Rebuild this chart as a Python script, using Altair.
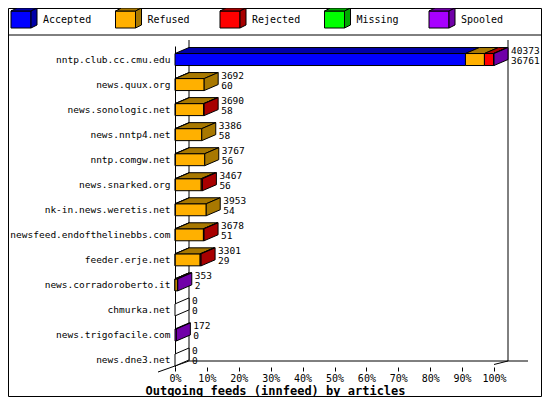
import json
import altair as alt
import pandas as pd

# ---------------- data ----------------
hosts = ["nntp.club.cc.cmu.edu", "news.quux.org", "news.sonologic.net", "news.nntp4.net",
         "nntp.comgw.net", "news.snarked.org", "nk-in.news.weretis.net",
         "newsfeed.endofthelinebbs.com", "feeder.erje.net", "news.corradoroberto.it",
         "chmurka.net", "news.trigofacile.com", "news.dne3.net"]
offered = [40373, 3692, 3690, 3386, 3767, 3467, 3953, 3678, 3301, 353, 0, 172, 0]
accepted = [36761, 60, 58, 58, 56, 56, 54, 51, 29, 2, 0, 0, 0]
refused = [2400, 3632, 3572, 3328, 3711, 3261, 3899, 3547, 3152, 300, 0, 0, 0]
rejected = [1150, 0, 60, 0, 0, 150, 0, 80, 120, 0, 0, 0, 0]
missing = [0, 0, 0, 0, 0, 0, 0, 0, 0, 0, 0, 0, 0]
spooled = [62, 0, 0, 0, 0, 0, 0, 0, 0, 51, 0, 172, 0]
categories = ["Accepted", "Refused", "Rejected", "Missing", "Spooled"]
front_colors = ["#0000ff", "#ffb000", "#ff0000", "#00ff00", "#a800ff"]
shade_colors = ["#0000a8", "#a87800", "#a80000", "#00a800", "#7000a8"]
x_ticks = [0, 0.1, 0.2, 0.3, 0.4, 0.5, 0.6, 0.7, 0.8, 0.9, 1.0]
x_title = "Outgoing feeds (innfeed) by articles"

# ---------------- geometry (style) ----------------
MONO = "DejaVu Sans Mono"
SVG_W, SVG_H = 534, 389
PLOT_W = 319
PLOT_H = 321
Y_DOMAIN = [-0.54, 12.28]
ROW_PX = PLOT_H / (Y_DOMAIN[1] - Y_DOMAIN[0])
PAGE_X0, PAGE_Y0 = 175, 46
PAD_L, PAD_T = PAGE_X0 - 8, PAGE_Y0 - 8
PAD_R, PAD_B = SVG_W - PAD_L - PLOT_W, SVG_H - PAD_T - PLOT_H
DX = 14 / PLOT_W          # 3D depth, x
DY = 6 / ROW_PX           # 3D depth, y
HALF = 6 / ROW_PX         # half bar height


def ux(px):
    return (px - PAGE_X0) / PLOT_W


def uy(py):
    return (py - PAGE_Y0) / ROW_PX + Y_DOMAIN[0]


M = max(offered)
series = [accepted, refused, rejected, missing, spooled]

front, top, side = [], [], []
pid = 0
for i, h in enumerate(hosts):
    yt, yb = i - HALF, i + HALF
    start = 0
    segs = [(k, series[k][i]) for k in range(5) if series[k][i] > 0]
    x1 = 0
    for k, v in segs:
        x0 = start / M
        x1 = (start + v) / M
        start += v
        front.append(dict(x=x0, x2=x1, y=yt, y2=yb, fill=front_colors[k]))
        top.append(dict(pid=pid, y=yt, x=x0, x2=x1, fill=shade_colors[k]))
        top.append(dict(pid=pid, y=yt - DY, x=x0 + DX, x2=x1 + DX, fill=shade_colors[k]))
        pid += 1
    sfill = shade_colors[segs[-1][0]] if segs else "#ffffff"
    side.append(dict(pid=pid, x=x1, y=yt, y2=yb, fill=sfill))
    side.append(dict(pid=pid, x=x1 + DX, y=yt - DY, y2=yb - DY, fill=sfill))
    pid += 1

# legend cubes
leg_text = []
LDX, LDY = 6 / PLOT_W, 3 / ROW_PX
for k, c in enumerate(categories):
    lx0, lx1 = ux(11 + 104.5 * k), ux(31 + 104.5 * k)
    ly0, ly1 = uy(11), uy(28)
    front.append(dict(x=lx0, x2=lx1, y=ly0, y2=ly1, fill=front_colors[k]))
    top.append(dict(pid=pid, y=ly0, x=lx0, x2=lx1, fill=shade_colors[k]))
    top.append(dict(pid=pid, y=ly0 - LDY, x=lx0 + LDX, x2=lx1 + LDX, fill=shade_colors[k]))
    pid += 1
    side.append(dict(pid=pid, x=lx1, y=ly0, y2=ly1, fill=shade_colors[k]))
    side.append(dict(pid=pid, x=lx1 + LDX, y=ly0 - LDY, y2=ly1 - LDY, fill=shade_colors[k]))
    pid += 1
    leg_text.append(dict(x=ux(43 + 104.5 * k), y=uy(20), text=c))

labels = pd.DataFrame(dict(x=[o / M + DX for o in offered], y=list(range(len(hosts))),
                           off=[str(o) for o in offered], acc=[str(a) for a in accepted]))

floor_front = Y_DOMAIN[1]
floor_back = Y_DOMAIN[1] - DY
top_back = Y_DOMAIN[0] - DY
walls = pd.DataFrame([
    dict(x=DX, x2=DX, y=top_back, y2=floor_back),
    dict(x=1 + DX, x2=1 + DX, y=top_back, y2=floor_back),
    dict(x=DX, x2=ux(528), y=floor_back, y2=floor_back),
    dict(x=ux(158), x2=DX, y=uy(372), y2=floor_back),
    dict(x=1, x2=1 + DX, y=floor_front - 0.1, y2=floor_back),
])

# ---------------- scales/axes ----------------
xscale = alt.Scale(domain=[0, 1], nice=False, zero=False)
yscale = alt.Scale(domain=Y_DOMAIN, nice=False, zero=False, reverse=True)
xaxis = alt.Axis(values=x_ticks, format=".0%", domain=False, grid=False, tickSize=4,
                 tickColor="black", labelFont=MONO, labelFontSize=10, labelColor="black",
                 labelPadding=2, labelFlush=False, labelOverlap=False,
                 title=x_title, titleFont=MONO, titleFontSize=12, titleFontWeight="bold",
                 titleColor="black", titleX=275 - PAGE_X0, titleY=23, titleBaseline="middle",
                 titleAlign="center")
label_expr = json.dumps(hosts) + "[datum.value]"
yaxis = alt.Axis(values=list(range(len(hosts))), labelExpr=label_expr, ticks=False,
                 domain=True, domainColor="black", grid=False, labelFont=MONO,
                 labelFontSize=9.5, labelColor="black", labelPadding=5,
                 labelOverlap=False, labelBound=False, title=None)


def X(f):
    return alt.X(f, type="quantitative", scale=xscale, axis=xaxis, stack=None)


def Y(f):
    return alt.Y(f, type="quantitative", scale=yscale, axis=yaxis, stack=None)


NOFILL = alt.Fill("fill:N", scale=None)

frame = alt.Chart(pd.DataFrame({"a": [0]})).mark_rect(
    fill="transparent", stroke="black", strokeWidth=1).encode(
    x=alt.value(-PAD_L + 0.5), x2=alt.value(PLOT_W + PAD_R - 0.5),
    y=alt.value(-PAD_T + 0.5), y2=alt.value(PLOT_H + PAD_B - 0.5))
sep = alt.Chart(pd.DataFrame({"a": [0]})).mark_rule(color="black", strokeWidth=1).encode(
    x=alt.value(-PAD_L + 0.5), x2=alt.value(PLOT_W + PAD_R - 0.5), y=alt.value(35 - PAGE_Y0))

wall_layer = alt.Chart(walls).mark_rule(color="black", strokeWidth=1).encode(
    x=X("x"), x2="x2", y=Y("y"), y2="y2")

front_layer = alt.Chart(pd.DataFrame(front)).mark_rect(stroke="black", strokeWidth=1).encode(
    x=X("x"), x2="x2", y=Y("y"), y2="y2", fill=NOFILL)

top_layer = alt.Chart(pd.DataFrame(top)).mark_area(
    orient="horizontal", stroke="black", strokeWidth=1, opacity=1, interpolate="linear").encode(
    x=X("x"), x2="x2", y=Y("y"), detail="pid:N", fill=NOFILL)

side_layer = alt.Chart(pd.DataFrame(side)).mark_area(
    orient="vertical", stroke="black", strokeWidth=1, opacity=1, interpolate="linear").encode(
    x=X("x"), y=Y("y"), y2="y2", detail="pid:N", fill=NOFILL)

txt1 = alt.Chart(labels).mark_text(align="left", baseline="middle", dx=3, dy=-9,
                                   font=MONO, fontSize=9.5, color="black").encode(
    x=X("x"), y=Y("y"), text="off:N")
txt2 = alt.Chart(labels).mark_text(align="left", baseline="middle", dx=3, dy=1.5,
                                   font=MONO, fontSize=9.5, color="black").encode(
    x=X("x"), y=Y("y"), text="acc:N")

leg_txt = alt.Chart(pd.DataFrame(leg_text)).mark_text(
    align="left", baseline="middle", font=MONO, fontSize=10, color="black").encode(
    x=X("x"), y=Y("y"), text="text:N")

chart = alt.layer(frame, sep, wall_layer, front_layer, top_layer, side_layer,
                  txt1, txt2, leg_txt).properties(
    width=PLOT_W, height=PLOT_H, autosize="none",
    padding={"left": PAD_L, "top": PAD_T, "right": PAD_R, "bottom": PAD_B},
    background="white",
).configure_view(strokeWidth=0)

chart.save("out.html", embed_options={"renderer": "svg", "actions": False})
